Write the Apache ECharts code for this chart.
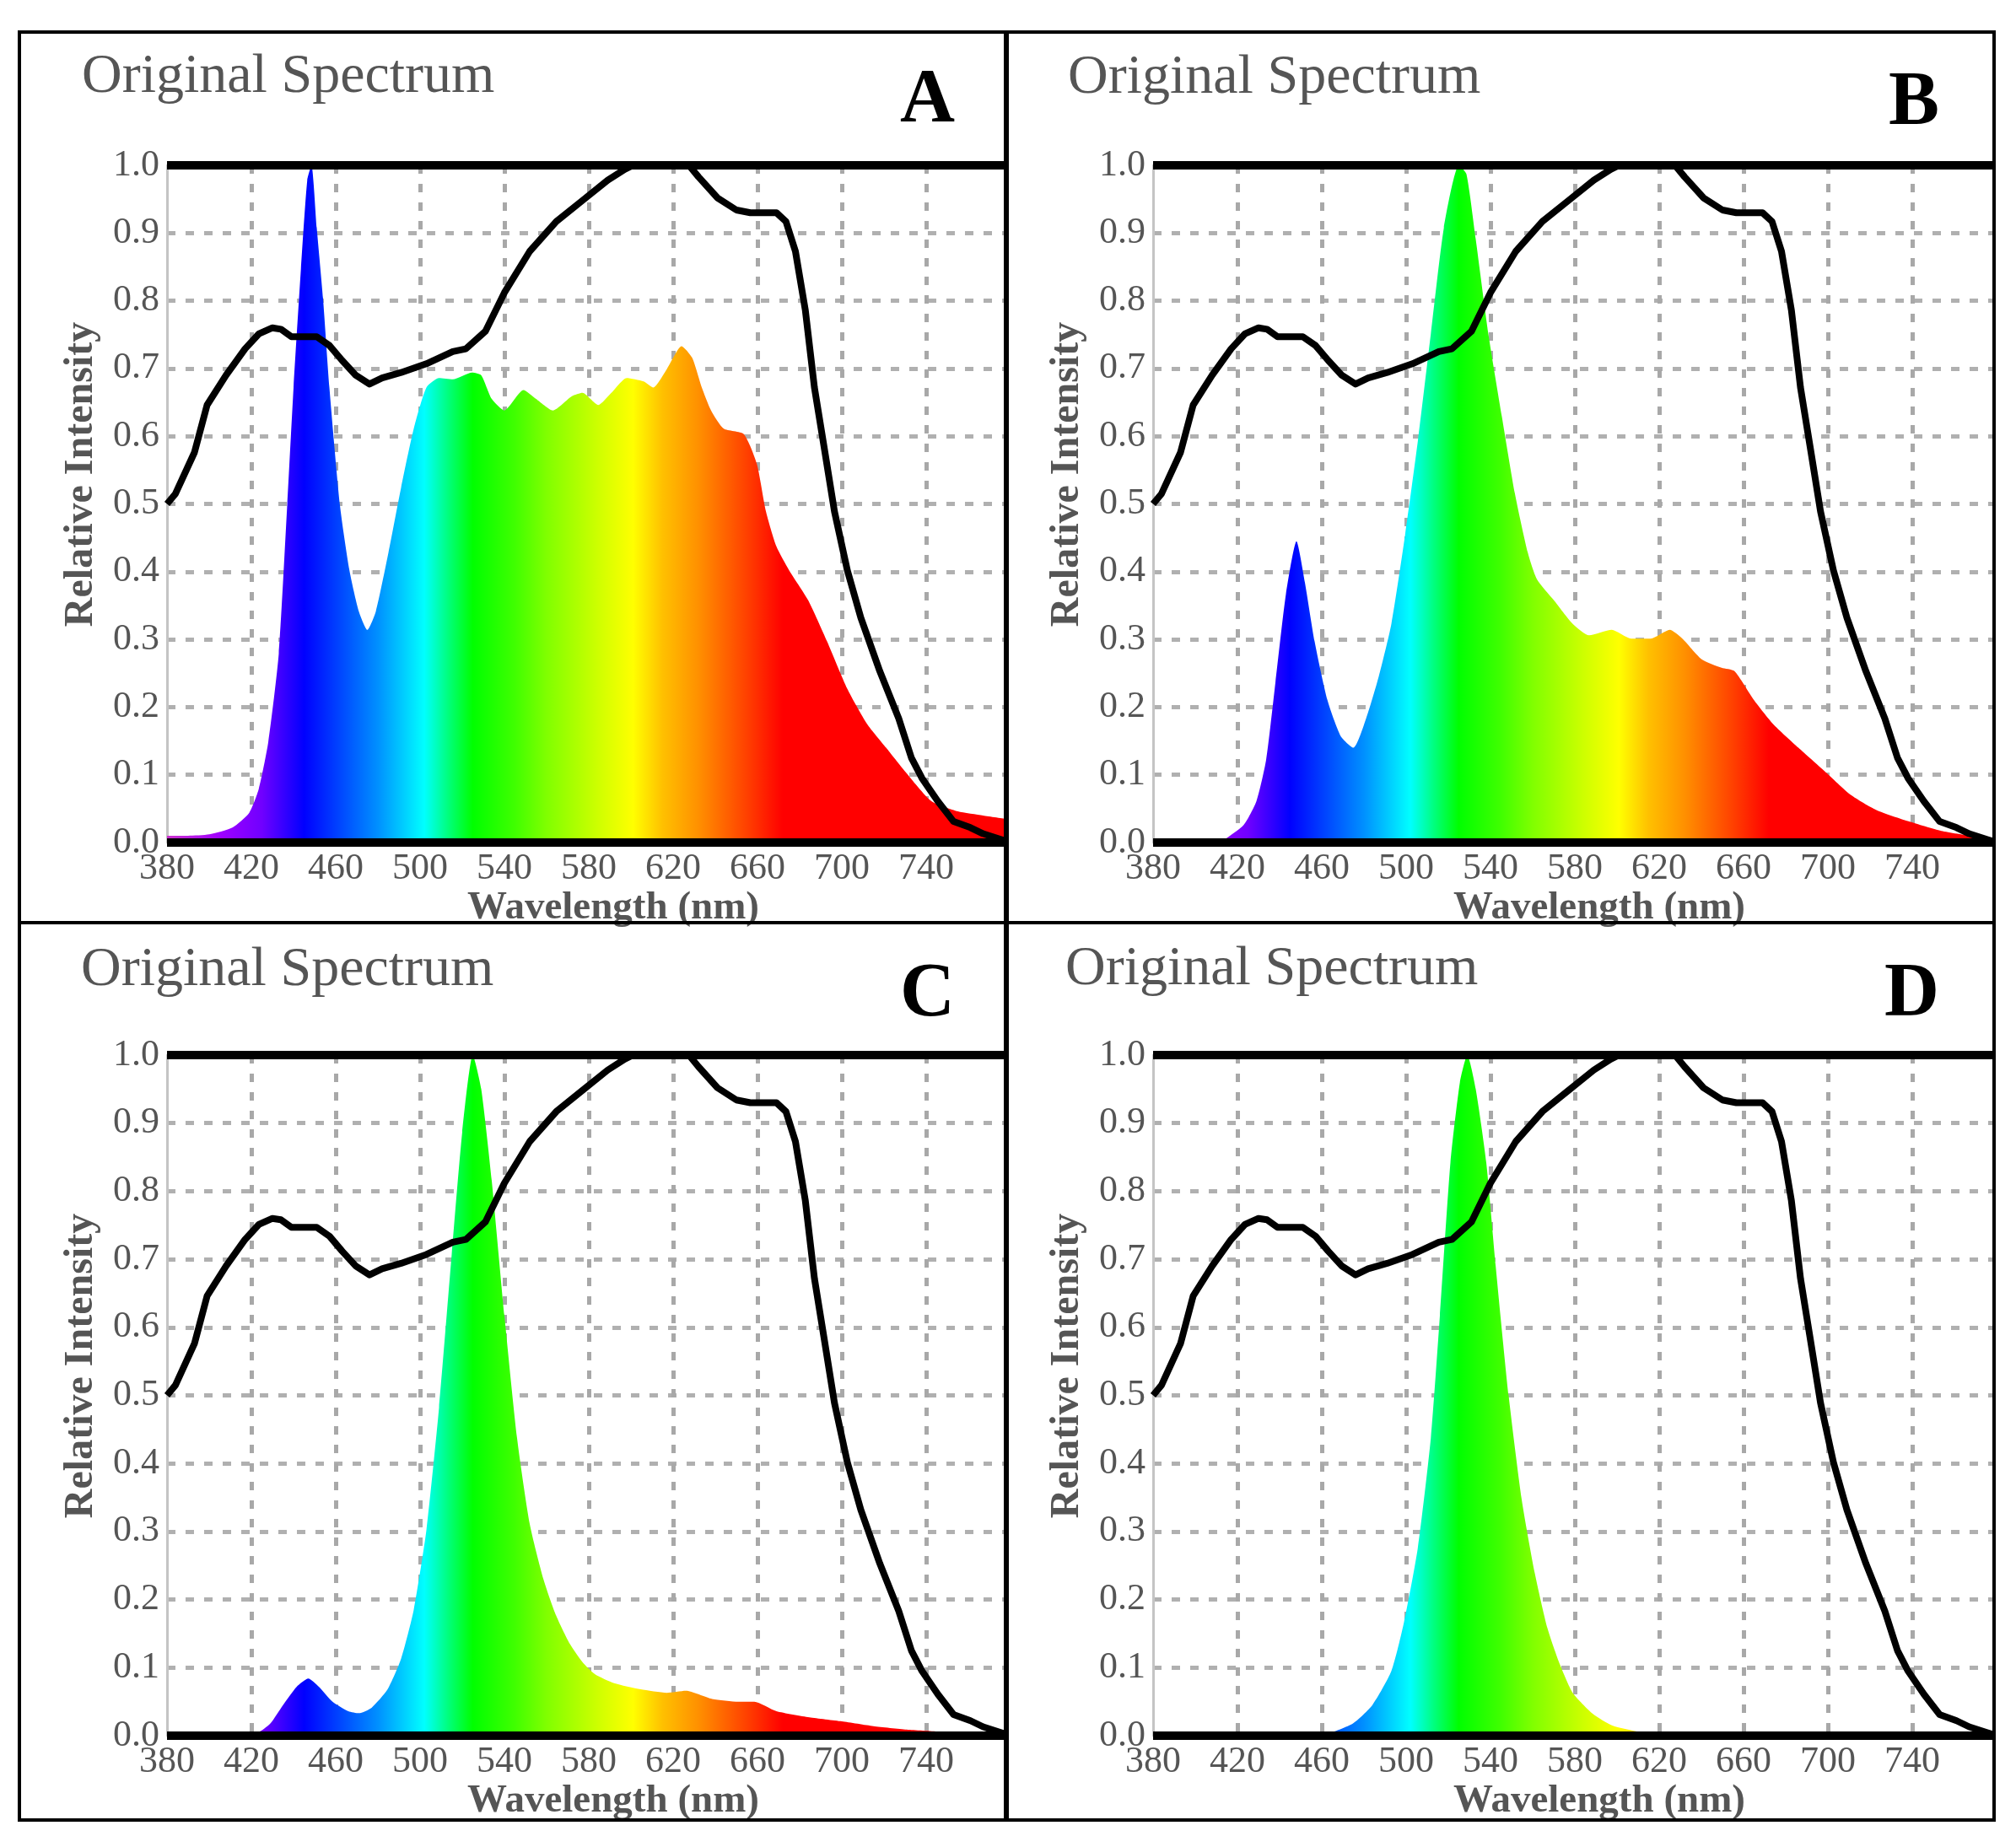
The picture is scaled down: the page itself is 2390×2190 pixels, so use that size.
<!DOCTYPE html>
<html><head><meta charset="utf-8">
<script src="https://cdn.jsdelivr.net/npm/echarts@6/dist/echarts.min.js"></script>
<style>html,body{margin:0;padding:0;background:#fff}#c{width:2390px;height:2190px}</style>
</head><body><div id="c"></div>
<script>
// ---------------- data ----------------
const panelLetters = ['A', 'B', 'C', 'D'];
const panelTitle = 'Original Spectrum';
const xAxisName = 'Wavelength (nm)';
const yAxisName = 'Relative Intensity';
const xTickLabels = [380, 420, 460, 500, 540, 580, 620, 660, 700, 740];
const yTickLabels = [0.0, 0.1, 0.2, 0.3, 0.4, 0.5, 0.6, 0.7, 0.8, 0.9, 1.0];

// black curve (same in every panel)
const curveWl = [380, 384, 393, 399, 408, 417, 423.5, 430, 434, 439, 451, 457, 463, 469.5, 476, 482, 491, 503, 515.5, 521.7, 531, 540, 552, 564.6, 577, 589, 597, 601, 627.5, 632, 641, 650, 656.6, 669, 673.5, 678, 682.7, 687, 692, 696.5, 702.6, 709, 718, 727, 733, 738, 745.5, 753, 761, 767, 776, 778];
const curveVal = [0.50, 0.515, 0.576, 0.646, 0.690, 0.729, 0.751, 0.760, 0.758, 0.747, 0.747, 0.734, 0.712, 0.690, 0.677, 0.686, 0.694, 0.707, 0.725, 0.729, 0.755, 0.812, 0.873, 0.917, 0.948, 0.978, 0.994, 1.0, 1.0, 0.983, 0.952, 0.934, 0.930, 0.930, 0.917, 0.873, 0.786, 0.672, 0.576, 0.489, 0.402, 0.332, 0.253, 0.183, 0.125, 0.095, 0.061, 0.031, 0.022, 0.013, 0.004, 0.002];

// spectra
const specAWl = [380, 390, 400, 411, 419, 423.5, 428, 433, 437, 440, 443.5, 446.5, 448.5, 451, 454, 457, 462, 466.5, 471, 475, 479, 485, 491, 497, 503, 509, 515.5, 524.7, 529, 534, 540, 549, 555, 563, 572, 577, 584.5, 590.7, 598, 606, 610.6, 617, 624, 629, 633.6, 638, 644, 653.5, 659.7, 664, 669, 675, 684, 693, 702.6, 712, 721, 730, 742.5, 755, 767, 778];
const specAVal = [0.01, 0.01, 0.012, 0.022, 0.044, 0.079, 0.148, 0.279, 0.498, 0.672, 0.847, 0.978, 1.0, 0.908, 0.803, 0.672, 0.498, 0.402, 0.341, 0.314, 0.341, 0.428, 0.524, 0.611, 0.672, 0.686, 0.684, 0.694, 0.690, 0.655, 0.638, 0.668, 0.655, 0.638, 0.659, 0.664, 0.646, 0.664, 0.686, 0.681, 0.672, 0.699, 0.733, 0.716, 0.672, 0.638, 0.611, 0.603, 0.559, 0.489, 0.437, 0.402, 0.358, 0.297, 0.227, 0.175, 0.140, 0.105, 0.061, 0.046, 0.040, 0.035];

const specBWl = [380, 410, 413.7, 423, 429, 433.6, 438, 443, 448, 452, 456.6, 462.7, 469, 475, 481, 487, 493, 499.5, 505.6, 511.7, 517.9, 525, 528.6, 533, 539, 545.4, 551.6, 557.7, 562, 570, 579, 586.8, 597.5, 606.7, 616, 625, 631, 640, 649.6, 655.7, 665, 674, 686, 698.6, 711, 723, 738.5, 753.8, 769, 778];
const specBVal = [0, 0, 0.004, 0.026, 0.061, 0.122, 0.236, 0.367, 0.445, 0.384, 0.297, 0.21, 0.157, 0.14, 0.183, 0.245, 0.323, 0.454, 0.594, 0.751, 0.908, 1.0, 0.987, 0.891, 0.751, 0.629, 0.515, 0.428, 0.389, 0.358, 0.323, 0.306, 0.314, 0.301, 0.301, 0.314, 0.301, 0.271, 0.258, 0.253, 0.21, 0.175, 0.14, 0.105, 0.07, 0.048, 0.031, 0.017, 0.009, 0.004];

const specCWl = [380, 423, 429, 435, 441.5, 447, 452, 458.5, 466, 471, 477, 484.6, 491, 497, 503, 509, 515, 520, 525, 529, 534, 540, 546, 552, 558.5, 564.6, 571, 577, 583, 592, 604.6, 617, 626, 638.5, 651, 658.5, 669, 684.6, 700, 715, 730.8, 746, 761.5, 778];
const specCVal = [0, 0.005, 0.018, 0.045, 0.072, 0.084, 0.072, 0.05, 0.036, 0.033, 0.041, 0.068, 0.113, 0.185, 0.302, 0.482, 0.707, 0.887, 1.0, 0.95, 0.815, 0.617, 0.437, 0.311, 0.23, 0.176, 0.135, 0.108, 0.09, 0.077, 0.068, 0.063, 0.066, 0.054, 0.05, 0.05, 0.036, 0.027, 0.021, 0.014, 0.009, 0.006, 0.003, 0];

const specDWl = [380, 460, 462.5, 474.8, 484, 493, 499, 505.5, 511.7, 516, 521, 525.5, 529, 533, 538, 542.5, 548.6, 554.8, 561, 567, 573, 579, 588.6, 597.8, 610, 622.5, 640, 778];
const specDVal = [0, 0, 0.002, 0.018, 0.045, 0.095, 0.167, 0.275, 0.437, 0.617, 0.842, 0.96, 1.0, 0.95, 0.842, 0.689, 0.5, 0.347, 0.239, 0.158, 0.104, 0.063, 0.032, 0.015, 0.006, 0.002, 0, 0];

// spectral colour stops (wavelength -> colour)
const stopWl = [380, 405, 425, 445, 480, 502, 513, 525, 545, 560, 585, 601, 615, 632, 655, 672, 780];
const stopColor = ['#cc33cc', '#a000ff', '#7000ff', '#0000ff', '#0090ff', '#00ffff', '#00ff80', '#00ff00', '#40ff00', '#80ff00', '#d0ff00', '#ffff00', '#ffc000', '#ff9000', '#ff4000', '#ff0000', '#ff0000'];

// ---------------- layout / style ----------------
const X_MIN = 380, X_MAX = 778;
const FONT = '"Liberation Serif", "Times New Roman", serif';
const TXT = '#555555';
const GRID_COLOR = '#b0b0b0';
const grids = [
  { left: 198, top: 196, width: 995, height: 803 },
  { left: 1367, top: 196, width: 995, height: 803 },
  { left: 198, top: 1251, width: 995, height: 807 },
  { left: 1367, top: 1251, width: 995, height: 807 }
];
const titlePos = [[97, 92], [1266, 93], [96, 1151], [1263, 1150]];
const letterPos = [[1132, 121], [2299, 124], [1132, 1181], [2299, 1181]];

const spectra = [[specAWl, specAVal], [specBWl, specBVal], [specCWl, specCVal], [specDWl, specDVal]];
const pairs = (xs, ys) => xs.map((x, i) => [x, ys[i]]);

function spectrumGradient(g) {
  return {
    type: 'linear', global: true,
    x: g.left, y: 0, x2: g.left + g.width * (780 - X_MIN) / (X_MAX - X_MIN), y2: 0,
    colorStops: stopWl.map((w, i) => ({ offset: (w - X_MIN) / (780 - X_MIN), color: stopColor[i] }))
  };
}

const xAxes = [], yAxes = [], series = [], graphics = [];
grids.forEach((g, i) => {
  xAxes.push({
    gridIndex: i, type: 'value', min: X_MIN, max: X_MAX, interval: 40,
    axisLine: { show: false }, axisTick: { show: false },
    axisLabel: {
      margin: 9, fontSize: 44, fontFamily: FONT, color: TXT, showMaxLabel: false,
      formatter: v => (xTickLabels.indexOf(v) >= 0 ? String(v) : '')
    },
    splitLine: { show: true, showMinLine: false, showMaxLine: false, lineStyle: { color: '#a8a8a8', width: 5, type: [10, 12] } },
    name: xAxisName, nameLocation: 'middle', nameGap: 67,
    nameTextStyle: { fontFamily: FONT, fontSize: 47, fontWeight: 'bold', color: TXT, verticalAlign: 'middle', padding: [0, 0, 0, 63] }
  });
  yAxes.push({
    gridIndex: i, type: 'value', min: 0, max: 1, interval: 0.1,
    axisLine: { show: true, lineStyle: { color: '#c4c4c4', width: 3 } }, axisTick: { show: false },
    axisLabel: { margin: 9, fontSize: 44, fontFamily: FONT, color: TXT, formatter: v => v.toFixed(1), padding: [0, 0, 14, 0] },
    splitLine: { show: true, lineStyle: { color: GRID_COLOR, width: 5, type: [10, 12] } },
    name: yAxisName, nameLocation: 'middle', nameGap: 101, nameRotate: 90,
    nameTextStyle: { fontFamily: FONT, fontSize: 48, fontWeight: 'bold', color: TXT, verticalAlign: 'middle', padding: [0, 0, 0, 70] }
  });
  series.push({
    name: 'Spectrum ' + panelLetters[i], type: 'line', xAxisIndex: i, yAxisIndex: i,
    data: pairs(spectra[i][0], spectra[i][1]), showSymbol: false, smooth: 0.2,
    lineStyle: { width: 0 }, areaStyle: { color: spectrumGradient(g), opacity: 1 }, z: 2, silent: true
  });
  series.push({
    name: 'Curve ' + panelLetters[i], type: 'line', xAxisIndex: i, yAxisIndex: i,
    data: pairs(curveWl, curveVal), showSymbol: false,
    lineStyle: { color: '#000', width: 8, join: 'round' }, z: 4, silent: true,
    markLine: {
      silent: true, symbol: 'none', label: { show: false },
      lineStyle: { color: '#000', width: 10, type: 'solid' },
      data: [{ yAxis: 0 }, { yAxis: 1 }]
    }
  });
  graphics.push({
    type: 'text', x: titlePos[i][0], y: titlePos[i][1], z: 100,
    style: { text: panelTitle, font: '66px ' + FONT, fill: TXT, textAlign: 'left', textVerticalAlign: 'middle' }
  });
  graphics.push({
    type: 'text', x: letterPos[i][0], y: letterPos[i][1], z: 100,
    style: { text: panelLetters[i], font: 'bold 90px ' + FONT, fill: '#000', textAlign: 'right', textVerticalAlign: 'middle' }
  });
});

// panel frames
graphics.push({ type: 'rect', z: 100, shape: { x: 23, y: 38, width: 2341, height: 2120 }, style: { fill: 'none', stroke: '#000', lineWidth: 4 } });
graphics.push({ type: 'line', z: 100, shape: { x1: 1193, y1: 38, x2: 1193, y2: 2158 }, style: { stroke: '#000', lineWidth: 6 } });
graphics.push({ type: 'line', z: 100, shape: { x1: 23, y1: 1094, x2: 2364, y2: 1094 }, style: { stroke: '#000', lineWidth: 4 } });

const chart = echarts.init(document.getElementById('c'), null, { renderer: 'canvas' });
chart.setOption({
  backgroundColor: '#ffffff',
  animation: false,
  grid: grids.map(g => ({ left: g.left, top: g.top, width: g.width, height: g.height, containLabel: false })),
  xAxis: xAxes,
  yAxis: yAxes,
  series: series,
  graphic: { elements: graphics }
});
</script>
</body></html>
